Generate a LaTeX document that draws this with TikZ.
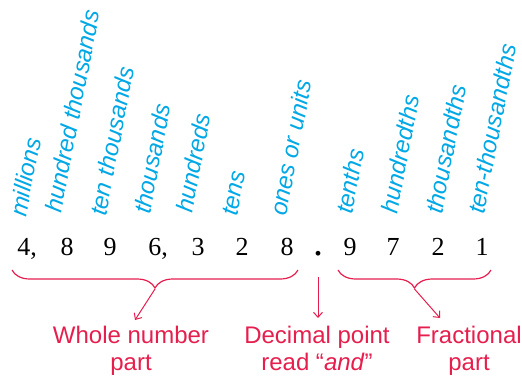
\documentclass[tikz,border=0pt]{standalone}
\usepackage{fontspec}
\setmainfont{Liberation Sans}
\newfontfamily\digfont{Liberation Serif}
\usetikzlibrary{decorations.pathreplacing,arrows.meta}
\definecolor{placeblue}{RGB}{0,168,230}
\definecolor{partred}{RGB}{230,30,78}
\begin{document}
\begin{tikzpicture}[x=1pt,y=-1pt,
  place/.style={inner sep=0pt,anchor=base west,rotate=79,text=placeblue,
    font=\fontsize{24}{26}\selectfont\itshape},
  digit/.style={inner sep=0pt,anchor=base,font=\digfont\fontsize{26}{30}\selectfont},
  parttext/.style={inner sep=0pt,anchor=base,align=center,text=partred,
    font=\fontsize{24}{27}\selectfont},
  bracepath/.style={draw=partred,line width=1.2pt,
    decorate,decoration={brace,mirror,amplitude=18pt}},
  pointer/.style={draw=partred,line width=1pt,
    -{Straight Barb[length=5pt,width=9pt,line width=1pt]}}]
\useasboundingbox (0,0) rectangle (522,375);
% digits
\node[digit] (d1) at (27,255) {4,};
\node[digit] (d2) at (67,255) {8};
\node[digit] (d3) at (110,255) {9};
\node[digit] (d4) at (158,255) {6,};
\node[digit] (d5) at (198,255) {3};
\node[digit] (d6) at (242,255) {2};
\node[digit] (d7) at (287,255) {8};
\node[digit,font=\digfont\fontsize{40}{40}\selectfont] (dp) at (318,255) {.};
\node[digit] (f1) at (350,255) {9};
\node[digit] (f2) at (393,255) {7};
\node[digit] (f3) at (438,255) {2};
\node[digit] (f4) at (482,255) {1};
% place names
\node[place] (l1) at (26,218) {millions};
\node[place] (l2) at (61,214) {hundred thousands};
\node[place] (l3) at (106,217) {ten thousands};
\node[place] (l4) at (150,215) {thousands};
\node[place] (l5) at (192,214) {hundreds};
\node[place] (l6) at (237,217) {tens};
\node[place] (l7) at (286,217) {ones or units};
\node[place] (l8) at (352,215) {tenths};
\node[place] (l9) at (397,215) {hundredths};
\node[place] (l10) at (442,215) {thousandths};
\node[place] (l11) at (484,215) {ten-thousandths};
% braces
\coordinate (wl) at (12,270);
\coordinate (wr) at (298,270);
\coordinate (fl) at (338,270);
\coordinate (fr) at (491,270);
\draw[bracepath] (wl) -- (wr);
\draw[bracepath] (fl) -- (fr);
\coordinate (wtip) at (155,289);
\coordinate (ftip) at (414.5,289);
\coordinate (dtop) at (318,277);
% part texts
\node[parttext] (whole) at (131,370) {Whole number\\part};
\node[parttext] (dec) at (317,370) {Decimal point\\read \textquotedblleft\textit{and}\textquotedblright};
\node[parttext] (frac) at (469,370) {Fractional\\part};
\coordinate (wend) at (135,320);
\coordinate (dend) at (318,318);
\coordinate (fend) at (440,318);
\draw[pointer] (wtip) -- (wend);
\draw[pointer] (dtop) -- (dend);
\draw[pointer] (ftip) -- (fend);
\end{tikzpicture}
\end{document}
